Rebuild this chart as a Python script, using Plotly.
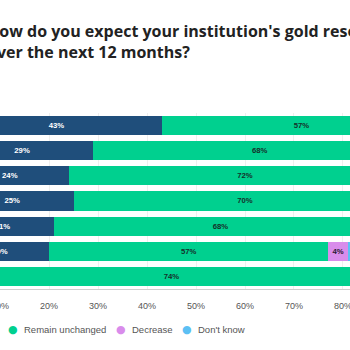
import plotly.graph_objects as go

years = ["2025", "2024", "2023", "2022", "2021", "2020", "2019"]
increase = [43, 29, 24, 25, 21, 20, 8]
unchanged = [57, 68, 72, 70, 68, 57, 74]
decrease = [0, 2, 2, 3, 4, 4, 0]
dont_know = [0, 1, 2, 2, 7, 19, 18]

series = [
    ("Increase", increase, "#1f4e7b", "#ffffff"),
    ("Remain unchanged", unchanged, "#00d08f", "#16302b"),
    ("Decrease", decrease, "#d98ceb", "#2a1a33"),
    ("Don't know", dont_know, "#5cc0f4", "#16302b"),
]
tick_vals = [10, 20, 30, 40, 50, 60, 70, 80]
tick_text = [f"{v}%" for v in tick_vals]

fig = go.Figure()
for name, vals, color, tcolor in series:
    fig.add_trace(go.Bar(
        y=years, x=vals, name=name, orientation="h",
        marker=dict(color=color, line=dict(width=0)),
        text=[f"{v}%" if v > 0 else "" for v in vals],
        textposition="inside", insidetextanchor="middle",
        textfont=dict(family="Liberation Sans, Arial", size=8, color=tcolor, weight=600),
        showlegend=False, hoverinfo="skip",
    ))

fig.update_layout(
    barmode="stack", bargap=0.24,
    width=350, height=350,
    margin=dict(l=0, r=0, t=113, b=61, autoexpand=False),
    paper_bgcolor="white", plot_bgcolor="white",
    uniformtext=dict(mode="hide", minsize=6),
    xaxis=dict(range=[10, 81.43], tickmode="array", tickvals=tick_vals, ticktext=tick_text,
               showgrid=True, gridcolor="#efefef", gridwidth=1,
               showline=True, linecolor="#cfcfcf", linewidth=1,
               zeroline=False, ticks="", ticklabelstandoff=8, automargin=False,
               ticklabeloverflow="allow",
               tickfont=dict(family="Liberation Sans, Arial", size=9, color="#555")),
    yaxis=dict(autorange="reversed", showticklabels=False, showgrid=False,
               zeroline=False, automargin=False),
    showlegend=False,
)

def py(pix):
    return (289 - pix) / 176.0

fig.add_annotation(
    text="How do you expect your institution's gold reserves to change<br>over the next 12 months?",
    xref="paper", yref="paper", x=-15 / 350, y=py(18), xanchor="left", yanchor="top",
    align="left", showarrow=False,
    font=dict(family="Open Sans", size=16, color="#222", weight=700),
)

legend_items = [
    ("Increase", "#1f4e7b", -52),
    ("Remain unchanged", "#00d08f", 13),
    ("Decrease", "#d98ceb", 121),
    ("Don't know", "#5cc0f4", 187),
]
for label, color, xpix in legend_items:
    fig.add_annotation(text="●", xref="paper", yref="paper", x=xpix / 350, y=py(329),
                       xanchor="center", yanchor="middle", showarrow=False,
                       font=dict(family="DejaVu Sans", size=11, color=color))
    fig.add_annotation(text=label, xref="paper", yref="paper", x=(xpix + 9) / 350, y=py(329),
                       xanchor="left", yanchor="middle", showarrow=False,
                       font=dict(family="Liberation Sans, Arial", size=9.5, color="#555"))

fig.write_html("out.html")
